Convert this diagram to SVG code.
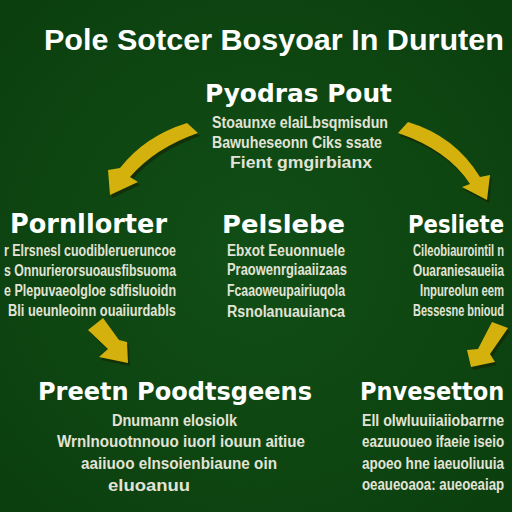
<svg xmlns="http://www.w3.org/2000/svg" width="512" height="512" viewBox="0 0 512 512">
<defs>
<radialGradient id="bg" cx="50%" cy="50%" r="70%">
<stop offset="0" stop-color="#114e16"/>
<stop offset="1" stop-color="#0b3f0e"/>
</radialGradient>
<style>
.title{font-family:"Liberation Sans",Arial,sans-serif;font-weight:700;font-size:30px;fill:#ffffff}
.head{font-family:"DejaVu Sans","Liberation Sans",sans-serif;font-weight:700;fill:#ffffff}
.body{font-family:"Liberation Sans",Arial,sans-serif;font-weight:700;font-size:16px;fill:#e2e3d6}
.arrow{fill:#d4b10c}
.shadow{fill:#142a06;opacity:0.75}
</style>
</defs>
<rect width="512" height="512" fill="url(#bg)"/>
<text class="title" transform="translate(44,50) scale(0.9,1)" x="0" y="0" textLength="511" lengthAdjust="spacingAndGlyphs">Pole Sotcer Bosyoar In Duruten</text>

<g id="connectors">
<g id="arrow-top-left">
<path class="shadow" transform="translate(2,3)" d="M187,123 Q145,136 120,168 L108,170 L110,195 L138,182 L130,177 Q155,148 198,133 Z"/>
<path class="arrow" d="M187,123 Q145,136 120,168 L108,170 L110,195 L138,182 L130,177 Q155,148 198,133 Z"/>
</g>
<g id="arrow-top-right">
<path class="shadow" transform="translate(2,3)" d="M408,122 Q455,136 480,177 L490,175 L487,200 L462,187 L470,184 Q448,150 398,133 Z"/>
<path class="arrow" d="M408,122 Q455,136 480,177 L490,175 L487,200 L462,187 L470,184 Q448,150 398,133 Z"/>
</g>
<g id="arrow-bottom-left">
<path class="shadow" transform="translate(2,3)" d="M88,330 L103,318 L119,340 L127,342 L128,363 L99,357 L108,349 Z"/>
<path class="arrow" d="M88,330 L103,318 L119,340 L127,342 L128,363 L99,357 L108,349 Z"/>
</g>
<g id="arrow-bottom-right">
<path class="shadow" transform="translate(2,3)" d="M492,322 L508,328 L490,354 L495,362 L471,367 L467,350 L478,349 Z"/>
<path class="arrow" d="M492,322 L508,328 L490,354 L495,362 L471,367 L467,350 L478,349 Z"/>
</g>
</g>

<g id="node-top">
<text class="head" x="205" y="102" font-size="25" textLength="187" lengthAdjust="spacingAndGlyphs">Pyodras Pout</text>
<text class="body" x="212" y="128" textLength="176" lengthAdjust="spacingAndGlyphs">Stoaunxe elaiLbsqmisdun</text>
<text class="body" x="212" y="148" textLength="170" lengthAdjust="spacingAndGlyphs">Bawuheseonn Ciks ssate</text>
<text class="body" x="230" y="168" textLength="142" lengthAdjust="spacingAndGlyphs">Fient gmgirbianx</text>
</g>

<g id="node-left">
<text class="head" x="10" y="233" font-size="26" textLength="157" lengthAdjust="spacingAndGlyphs">Pornllorter</text>
<text class="body" x="4" y="256" textLength="172" lengthAdjust="spacingAndGlyphs">r Elrsnesl cuodiblerueruncoe</text>
<text class="body" x="4" y="276" textLength="172" lengthAdjust="spacingAndGlyphs">s Onnurierorsuoausfibsuoma</text>
<text class="body" x="4" y="296" textLength="172" lengthAdjust="spacingAndGlyphs">e Plepuvaeolgloe sdfisluoidn</text>
<text class="body" x="8" y="316" textLength="168" lengthAdjust="spacingAndGlyphs">Bli ueunleoinn ouaiiurdabls</text>
</g>

<g id="node-center">
<text class="head" x="222" y="233" font-size="25" textLength="123" lengthAdjust="spacingAndGlyphs">Pelslebe</text>
<text class="body" x="227" y="256" textLength="118" lengthAdjust="spacingAndGlyphs">Ebxot Eeuonnuele</text>
<text class="body" x="227" y="275" textLength="120" lengthAdjust="spacingAndGlyphs">Praowenrgiaaiizaas</text>
<text class="body" x="227" y="296" textLength="118" lengthAdjust="spacingAndGlyphs">Fcaaoweupairiuqola</text>
<text class="body" x="227" y="317" textLength="118" lengthAdjust="spacingAndGlyphs">Rsnolanuauianca</text>
</g>

<g id="node-right">
<text class="head" transform="translate(408,233) scale(0.85,1)" x="0" y="0" font-size="25" textLength="113" lengthAdjust="spacingAndGlyphs">Pesliete</text>
<text class="body" transform="translate(413,256) scale(0.7,1)" x="0" y="0" textLength="130" lengthAdjust="spacingAndGlyphs">Cileobiaurointil n</text>
<text class="body" transform="translate(413,276) scale(0.7,1)" x="0" y="0" textLength="130" lengthAdjust="spacingAndGlyphs">Ouaraniesaueiia</text>
<text class="body" transform="translate(420,296) scale(0.7,1)" x="0" y="0" textLength="120" lengthAdjust="spacingAndGlyphs">Inpureolun eem</text>
<text class="body" transform="translate(413,316) scale(0.7,1)" x="0" y="0" textLength="130" lengthAdjust="spacingAndGlyphs">Bessesne bnioud</text>
</g>

<g id="node-bottom-left">
<text class="head" x="38" y="400" font-size="24" textLength="274" lengthAdjust="spacingAndGlyphs">Preetn Poodtsgeens</text>
<text class="body" x="112" y="426" textLength="125" lengthAdjust="spacingAndGlyphs">Dnumann elosiolk</text>
<text class="body" x="57" y="447" textLength="248" lengthAdjust="spacingAndGlyphs">Wrnlnouotnnouo iuorl iouun aitiue</text>
<text class="body" x="81" y="469" textLength="196" lengthAdjust="spacingAndGlyphs">aaiiuoo elnsoienbiaune oin</text>
<text class="body" x="108" y="491" textLength="82" lengthAdjust="spacingAndGlyphs">eluoanuu</text>
</g>

<g id="node-bottom-right">
<text class="head" transform="translate(360,400) scale(0.88,1)" x="0" y="0" font-size="24" textLength="164" lengthAdjust="spacingAndGlyphs">Pnvesetton</text>
<text class="body" transform="translate(362,426) scale(0.76,1)" x="0" y="0" textLength="187" lengthAdjust="spacingAndGlyphs">Ell olwluuiiaiiobarrne</text>
<text class="body" transform="translate(362,447) scale(0.76,1)" x="0" y="0" textLength="187" lengthAdjust="spacingAndGlyphs">eazuuoueo ifaeie iseio</text>
<text class="body" transform="translate(362,469) scale(0.76,1)" x="0" y="0" textLength="187" lengthAdjust="spacingAndGlyphs">apoeo hne iaeuoliuuia</text>
<text class="body" transform="translate(362,490) scale(0.76,1)" x="0" y="0" textLength="187" lengthAdjust="spacingAndGlyphs">oeaueoaoa: aueoeaiap</text>
</g>
</svg>
